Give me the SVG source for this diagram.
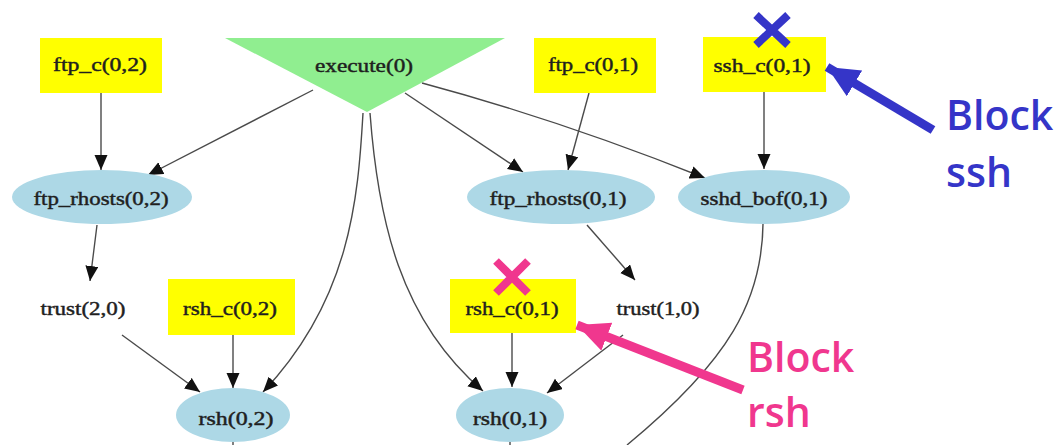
<svg xmlns="http://www.w3.org/2000/svg" width="1062" height="445" viewBox="0 0 1062 445">
<style>
.rect{fill:#FFFF00}
.ell{fill:#ADD8E6}
.tri{fill:#90EE90}
.lbl{font-family:"Liberation Serif","Times New Roman",serif;font-size:19px;fill:#1f1f1f;stroke:#1f1f1f;stroke-width:0.45;text-anchor:middle}
.edge{fill:none;stroke:#4a4a4a;stroke-width:1.4}
.blue{fill:#3535C8;font-family:"Open Sans","Liberation Sans",sans-serif;font-size:41px;font-weight:600}
.pink{fill:#F0378E;font-family:"Open Sans","Liberation Sans",sans-serif;font-size:41px;font-weight:600}
</style>
<defs>
<marker id="ah" markerUnits="userSpaceOnUse" markerWidth="16" markerHeight="14" refX="15" refY="6.5" orient="auto">
<path d="M0,0 L15,6.5 L0,13 z" fill="#111"/>
</marker>
<marker id="bh" markerUnits="userSpaceOnUse" markerWidth="34" markerHeight="32" refX="32" refY="15" orient="auto">
<path d="M0,0 L32,15 L0,30 z" fill="#3535C8"/>
</marker>
<marker id="ph" markerUnits="userSpaceOnUse" markerWidth="34" markerHeight="32" refX="32" refY="15" orient="auto">
<path d="M0,0 L32,15 L0,30 z" fill="#F0378E"/>
</marker>
</defs>
<rect width="1062" height="445" fill="#FFFFFF"/>

<g id="connectors">
<path class="edge" d="M101,93 L101,170" marker-end="url(#ah)"/>
<path class="edge" d="M313,90 L148,175" marker-end="url(#ah)"/>
<path class="edge" d="M363,113 C358,200 350,300 263,392" marker-end="url(#ah)"/>
<path class="edge" d="M370,113 C378,220 400,320 483,391" marker-end="url(#ah)"/>
<path class="edge" d="M405,93 L523,172" marker-end="url(#ah)"/>
<path class="edge" d="M422,83 Q560,120 705,178" marker-end="url(#ah)"/>
<path class="edge" d="M589,93 L568,170" marker-end="url(#ah)"/>
<path class="edge" d="M764,92 L764,169" marker-end="url(#ah)"/>
<path class="edge" d="M97,225 L90,281" marker-end="url(#ah)"/>
<path class="edge" d="M587,225 L635,280" marker-end="url(#ah)"/>
<path class="edge" d="M763,224 C762,300 730,360 627,445"/>
<path class="edge" d="M122,335 L200,392" marker-end="url(#ah)"/>
<path class="edge" d="M233,335 L233,388" marker-end="url(#ah)"/>
<path class="edge" d="M512,333 L512,387" marker-end="url(#ah)"/>
<path class="edge" d="M623,335 L547,393" marker-end="url(#ah)"/>
<path class="edge" d="M233,441 L233,445"/>
<path class="edge" d="M510,441 L510,445"/>
</g>

<g id="ftp_c_0_2"><rect class="rect" x="40" y="38" width="122" height="55"/><text class="lbl" x="100" y="71" textLength="94" lengthAdjust="spacingAndGlyphs">ftp_c(0,2)</text></g>
<g id="execute_0"><polygon class="tri" points="225,38 505,38 367,112"/><text class="lbl" x="364" y="72" textLength="98" lengthAdjust="spacingAndGlyphs">execute(0)</text></g>
<g id="ftp_c_0_1"><rect class="rect" x="534" y="38" width="122" height="55"/><text class="lbl" x="593" y="71" textLength="90" lengthAdjust="spacingAndGlyphs">ftp_c(0,1)</text></g>
<g id="ssh_c_0_1"><rect class="rect" x="703" y="37" width="123" height="55"/><text class="lbl" x="762" y="72" textLength="97" lengthAdjust="spacingAndGlyphs">ssh_c(0,1)</text></g>
<g id="ftp_rhosts_0_2"><ellipse class="ell" cx="102" cy="197" rx="90" ry="27"/><text class="lbl" x="101" y="205" textLength="135" lengthAdjust="spacingAndGlyphs">ftp_rhosts(0,2)</text></g>
<g id="ftp_rhosts_0_1"><ellipse class="ell" cx="561" cy="197" rx="94" ry="27"/><text class="lbl" x="558" y="205" textLength="137" lengthAdjust="spacingAndGlyphs">ftp_rhosts(0,1)</text></g>
<g id="sshd_bof_0_1"><ellipse class="ell" cx="764" cy="197" rx="86" ry="27"/><text class="lbl" x="764" y="205" textLength="127" lengthAdjust="spacingAndGlyphs">sshd_bof(0,1)</text></g>
<g id="trust_2_0"><text class="lbl" x="83" y="315" textLength="85" lengthAdjust="spacingAndGlyphs">trust(2,0)</text></g>
<g id="rsh_c_0_2"><rect class="rect" x="168" y="279" width="127" height="56"/><text class="lbl" x="230" y="315" textLength="94" lengthAdjust="spacingAndGlyphs">rsh_c(0,2)</text></g>
<g id="rsh_c_0_1"><rect class="rect" x="450" y="279" width="126" height="54"/><text class="lbl" x="512" y="315" textLength="93" lengthAdjust="spacingAndGlyphs">rsh_c(0,1)</text></g>
<g id="trust_1_0"><text class="lbl" x="658" y="315" textLength="83" lengthAdjust="spacingAndGlyphs">trust(1,0)</text></g>
<g id="rsh_0_2"><ellipse class="ell" cx="233" cy="415" rx="57" ry="27"/><text class="lbl" x="236" y="425" textLength="75" lengthAdjust="spacingAndGlyphs">rsh(0,2)</text></g>
<g id="rsh_0_1"><ellipse class="ell" cx="510" cy="415" rx="54" ry="27"/><text class="lbl" x="510" y="425" textLength="74" lengthAdjust="spacingAndGlyphs">rsh(0,1)</text></g>

<g id="block_ssh">
<path d="M756,15 L788,45 M788,15 L756,45" stroke="#3535C8" stroke-width="8" fill="none"/>
<line x1="933" y1="130" x2="827" y2="67" stroke="#3535C8" stroke-width="9" marker-end="url(#bh)"/>
<text class="blue" x="946" y="130">Block</text>
<text class="blue" x="946" y="187">ssh</text>
</g>
<g id="block_rsh">
<path d="M496,261 L528,293 M528,261 L496,293" stroke="#F0378E" stroke-width="8" fill="none"/>
<line x1="743" y1="390" x2="577" y2="325" stroke="#F0378E" stroke-width="9" marker-end="url(#ph)"/>
<text class="pink" x="747" y="372">Block</text>
<text class="pink" x="747" y="427">rsh</text>
</g>
</svg>
